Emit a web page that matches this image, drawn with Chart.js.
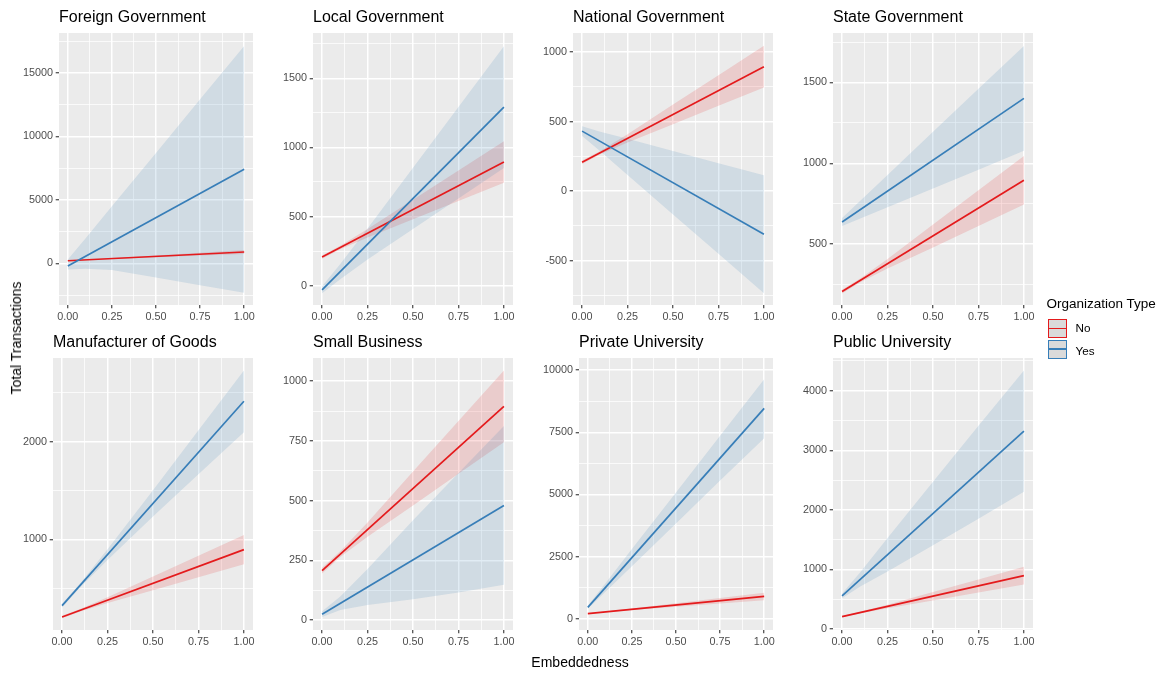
<!DOCTYPE html>
<html>
<head>
<meta charset="utf-8">
<title>Total Transactions by Embeddedness</title>
<script src="https://cdn.jsdelivr.net/npm/chart.js@4.4.1/dist/chart.umd.min.js"></script>
<style>
  html, body { margin: 0; padding: 0; background: #ffffff; }
  #page {
    position: relative; width: 1162px; height: 673px; overflow: hidden; background: #ffffff;
    font-family: "Liberation Sans", Arial, Helvetica, sans-serif; color: #000;
  }
  #page canvas { position: absolute; }
  .txt { position: absolute; white-space: nowrap; }
  .panel-title { font-size: 16px; line-height: 16px; }
  .axis-title { font-size: 14px; line-height: 14px; }
  .legend-title { font-size: 13.5px; line-height: 13.5px; }
  .legend-label { font-size: 11.7px; line-height: 11.7px; }
  .key { position: absolute; width: 17px; height: 17px; background: #dadada; border: 1px solid; }
  .key span { position: absolute; left: 0; right: 0; top: 7.6px; height: 1.7px; }
</style>
</head>
<body>
<div id="page"></div>
<script>
// ---- data -------------------------------------------------------------
const categories = [
  'Foreign Government', 'Local Government', 'National Government', 'State Government',
  'Manufacturer of Goods', 'Small Business', 'Private University', 'Public University'
];
const groups = ['No', 'Yes'];

// embeddedness values at which the confidence bands are evaluated
const embeddedness = [0, 0.1, 0.25, 0.5, 0.75, 1];
// end points of the fitted lines
const lineX = [0, 1];

// organisation type "No": the same fit in every facet
const noFit = [207, 895];
const noLower = [195, 264, 349, 480, 613, 745];
const noUpper = [219, 288, 409, 622, 833, 1045];

// organisation type "Yes": one row per facet (same order as categories)
const yesFit = [
  [-210, 7410], [-30, 1292], [431, -311], [637, 1402],
  [323, 2412], [25, 480], [456, 8462], [555, 3323]
];
const yesLower = [
  [-480, -420, -527, -1120, -1715, -2310],
  [-55, 47, 189, 409, 631, 852],
  [396, 287, 116, -168, -452, -735],
  [612, 659, 728, 845, 961, 1078],
  [303, 512, 790, 1233, 1665, 2095],
  [13, 43, 64, 88, 116, 148],
  [396, 1082, 2113, 3834, 5556, 7260],
  [515, 712, 967, 1404, 1851, 2306]
];
const yesUpper = [
  [300, 1950, 4500, 8700, 12930, 17130],
  [-5, 157, 413, 853, 1293, 1732],
  [466, 427, 376, 288, 200, 113],
  [662, 769, 928, 1195, 1461, 1726],
  [343, 552, 900, 1503, 2115, 2725],
  [37, 99, 214, 418, 616, 812],
  [516, 1430, 2800, 5080, 7360, 9630],
  [595, 952, 1527, 2474, 3411, 4340]
];

// tick labels
const xTicks = [0, 0.25, 0.5, 0.75, 1];
const yTicks = [
  [0, 5000, 10000, 15000],
  [0, 500, 1000, 1500],
  [-500, 0, 500, 1000],
  [500, 1000, 1500],
  [1000, 2000],
  [0, 250, 500, 750, 1000],
  [0, 2500, 5000, 7500, 10000],
  [0, 1000, 2000, 3000, 4000]
];

// ---- layout -----------------------------------------------------------
const xRange = [-0.05, 1.05];
const yRange = [
  [-3280, 18150], [-140, 1828], [-820, 1137], [124, 1806],
  [74, 2854], [-41, 1097], [-455, 10490], [-17, 4550]
];
const plotLeft = [59, 313, 573, 833, 53, 313, 579, 833];
const plotRight = [253, 513, 773, 1033];
const rowTop = [33, 358];
const rowBottom = [305, 630];
const titleTop = [9, 334];

const RED = '#E41A1C';
const BLUE = '#377EB8';
const RED_FILL = 'rgba(228, 26, 28, 0.15)';
const BLUE_FILL = 'rgba(55, 126, 184, 0.15)';
const TICK_TEXT = '#4D4D4D';

Chart.defaults.font.family = '"Liberation Sans", Arial, Helvetica, sans-serif';

const page = document.getElementById('page');

// major ticks plus the half-way minor ticks inside [min, max]
function tickSet(majors, min, max) {
  const step = majors[1] - majors[0];
  const half = step / 2;
  const out = [];
  const kMin = Math.ceil((min - majors[0]) / half - 1e-9);
  const kMax = Math.floor((max - majors[0]) / half + 1e-9);
  for (let k = kMin; k <= kMax; k++) {
    const v = majors[0] + k * half;
    out.push({ value: +v.toFixed(6), isMajor: k % 2 === 0 });
  }
  return out;
}

const panelBackground = {
  id: 'panelBackground',
  beforeDraw(chart) {
    const a = chart.chartArea;
    const ctx = chart.ctx;
    ctx.save();
    ctx.fillStyle = '#EBEBEB';
    ctx.fillRect(a.left, a.top, a.right - a.left, a.bottom - a.top);
    ctx.restore();
  }
};

function pts(xs, ys) { return xs.map((x, i) => ({ x: x, y: ys[i] })); }

function addText(cls, text, left, top) {
  const d = document.createElement('div');
  d.className = 'txt ' + cls;
  d.textContent = text;
  d.style.left = left + 'px';
  d.style.top = top + 'px';
  page.appendChild(d);
  return d;
}

function makePanel(i) {
  const row = Math.floor(i / 4), col = i % 4;
  const left = plotLeft[i], right = plotRight[col];
  const top = rowTop[row], bottom = rowBottom[row];
  const AXW = 45, PADT = 14, PADR = 16, AXH = 24;
  const w = AXW + (right - left) + PADR;
  const h = PADT + (bottom - top) + AXH;

  const canvas = document.createElement('canvas');
  canvas.width = w; canvas.height = h;
  canvas.style.width = w + 'px'; canvas.style.height = h + 'px';
  canvas.style.left = (left - AXW) + 'px';
  canvas.style.top = (top - PADT) + 'px';
  page.appendChild(canvas);

  addText('panel-title', categories[i], left, titleTop[row]);

  const yMaj = yTicks[i];
  const yAll = tickSet(yMaj, yRange[i][0], yRange[i][1]);
  const xAll = tickSet(xTicks, xRange[0], xRange[1]);

  const gridOpts = {
    color: '#FFFFFF',
    lineWidth: c => (c.tick && c.tick.isMajor) ? 1.5 : 0.75,
    drawTicks: true,
    tickLength: 3.3,
    tickWidth: 1.1,
    tickColor: c => (c.tick && c.tick.isMajor) ? '#333333' : 'rgba(0,0,0,0)'
  };
  const tickFont = { size: 10.8 };

  new Chart(canvas, {
    type: 'line',
    data: {
      datasets: [
        // fitted lines (listed first so they are drawn on top)
        { label: groups[1], data: pts(lineX, yesFit[i]), borderColor: BLUE, borderWidth: 1.7,
          pointRadius: 0, fill: false, tension: 0 },
        { label: groups[0], data: pts(lineX, noFit), borderColor: RED, borderWidth: 1.7,
          pointRadius: 0, fill: false, tension: 0 },
        // confidence bands
        { label: groups[1] + ' upper', data: pts(embeddedness, yesUpper[i]), borderColor: 'rgba(0,0,0,0)',
          borderWidth: 0, pointRadius: 0, backgroundColor: BLUE_FILL, fill: '+1', tension: 0 },
        { label: groups[1] + ' lower', data: pts(embeddedness, yesLower[i]), borderColor: 'rgba(0,0,0,0)',
          borderWidth: 0, pointRadius: 0, fill: false, tension: 0 },
        { label: groups[0] + ' upper', data: pts(embeddedness, noUpper), borderColor: 'rgba(0,0,0,0)',
          borderWidth: 0, pointRadius: 0, backgroundColor: RED_FILL, fill: '+1', tension: 0 },
        { label: groups[0] + ' lower', data: pts(embeddedness, noLower), borderColor: 'rgba(0,0,0,0)',
          borderWidth: 0, pointRadius: 0, fill: false, tension: 0 }
      ]
    },
    options: {
      responsive: false,
      animation: false,
      events: [],
      layout: { padding: { top: PADT, right: PADR, bottom: 0, left: 0 } },
      plugins: { legend: { display: false }, tooltip: { enabled: false }, title: { display: false } },
      scales: {
        x: {
          type: 'linear',
          min: xRange[0], max: xRange[1],
          afterBuildTicks: s => { s.ticks = xAll.map(t => ({ value: t.value, isMajor: t.isMajor })); },
          afterFit: s => { s.height = AXH; },
          border: { display: false },
          grid: gridOpts,
          ticks: {
            autoSkip: false, maxRotation: 0, minRotation: 0, padding: 2.7,
            color: TICK_TEXT, font: tickFont,
            callback: v => xTicks.some(m => Math.abs(m - v) < 1e-9) ? v.toFixed(2) : ''
          }
        },
        y: {
          type: 'linear',
          min: yRange[i][0], max: yRange[i][1],
          afterBuildTicks: s => { s.ticks = yAll.map(t => ({ value: t.value, isMajor: t.isMajor })); },
          afterFit: s => { s.width = AXW; },
          border: { display: false },
          grid: gridOpts,
          ticks: {
            autoSkip: false, padding: 2.7, color: TICK_TEXT, font: tickFont,
            callback: v => yMaj.includes(v) ? String(v) : ''
          }
        }
      }
    },
    plugins: [panelBackground]
  });
}

for (let i = 0; i < categories.length; i++) makePanel(i);

// axis titles
const yTitle = addText('axis-title', 'Total Transactions', 0, 0);
yTitle.style.left = '16px';
yTitle.style.top = '338px';
yTitle.style.transform = 'translate(-50%, -50%) rotate(-90deg)';

const xTitle = addText('axis-title', 'Embeddedness', 0, 655);
xTitle.style.left = '580px';
xTitle.style.transform = 'translateX(-50%)';

// legend
addText('legend-title', 'Organization Type', 1046.5, 297);
[[groups[0], RED, 319, 321.8], [groups[1], BLUE, 339.5, 345]].forEach(([name, colour, y, ty]) => {
  const k = document.createElement('div');
  k.className = 'key';
  k.style.left = '1048px';
  k.style.top = y + 'px';
  k.style.borderColor = colour;
  const line = document.createElement('span');
  line.style.background = colour;
  k.appendChild(line);
  page.appendChild(k);
  addText('legend-label', name, 1075.5, ty);
});
</script>
</body>
</html>
